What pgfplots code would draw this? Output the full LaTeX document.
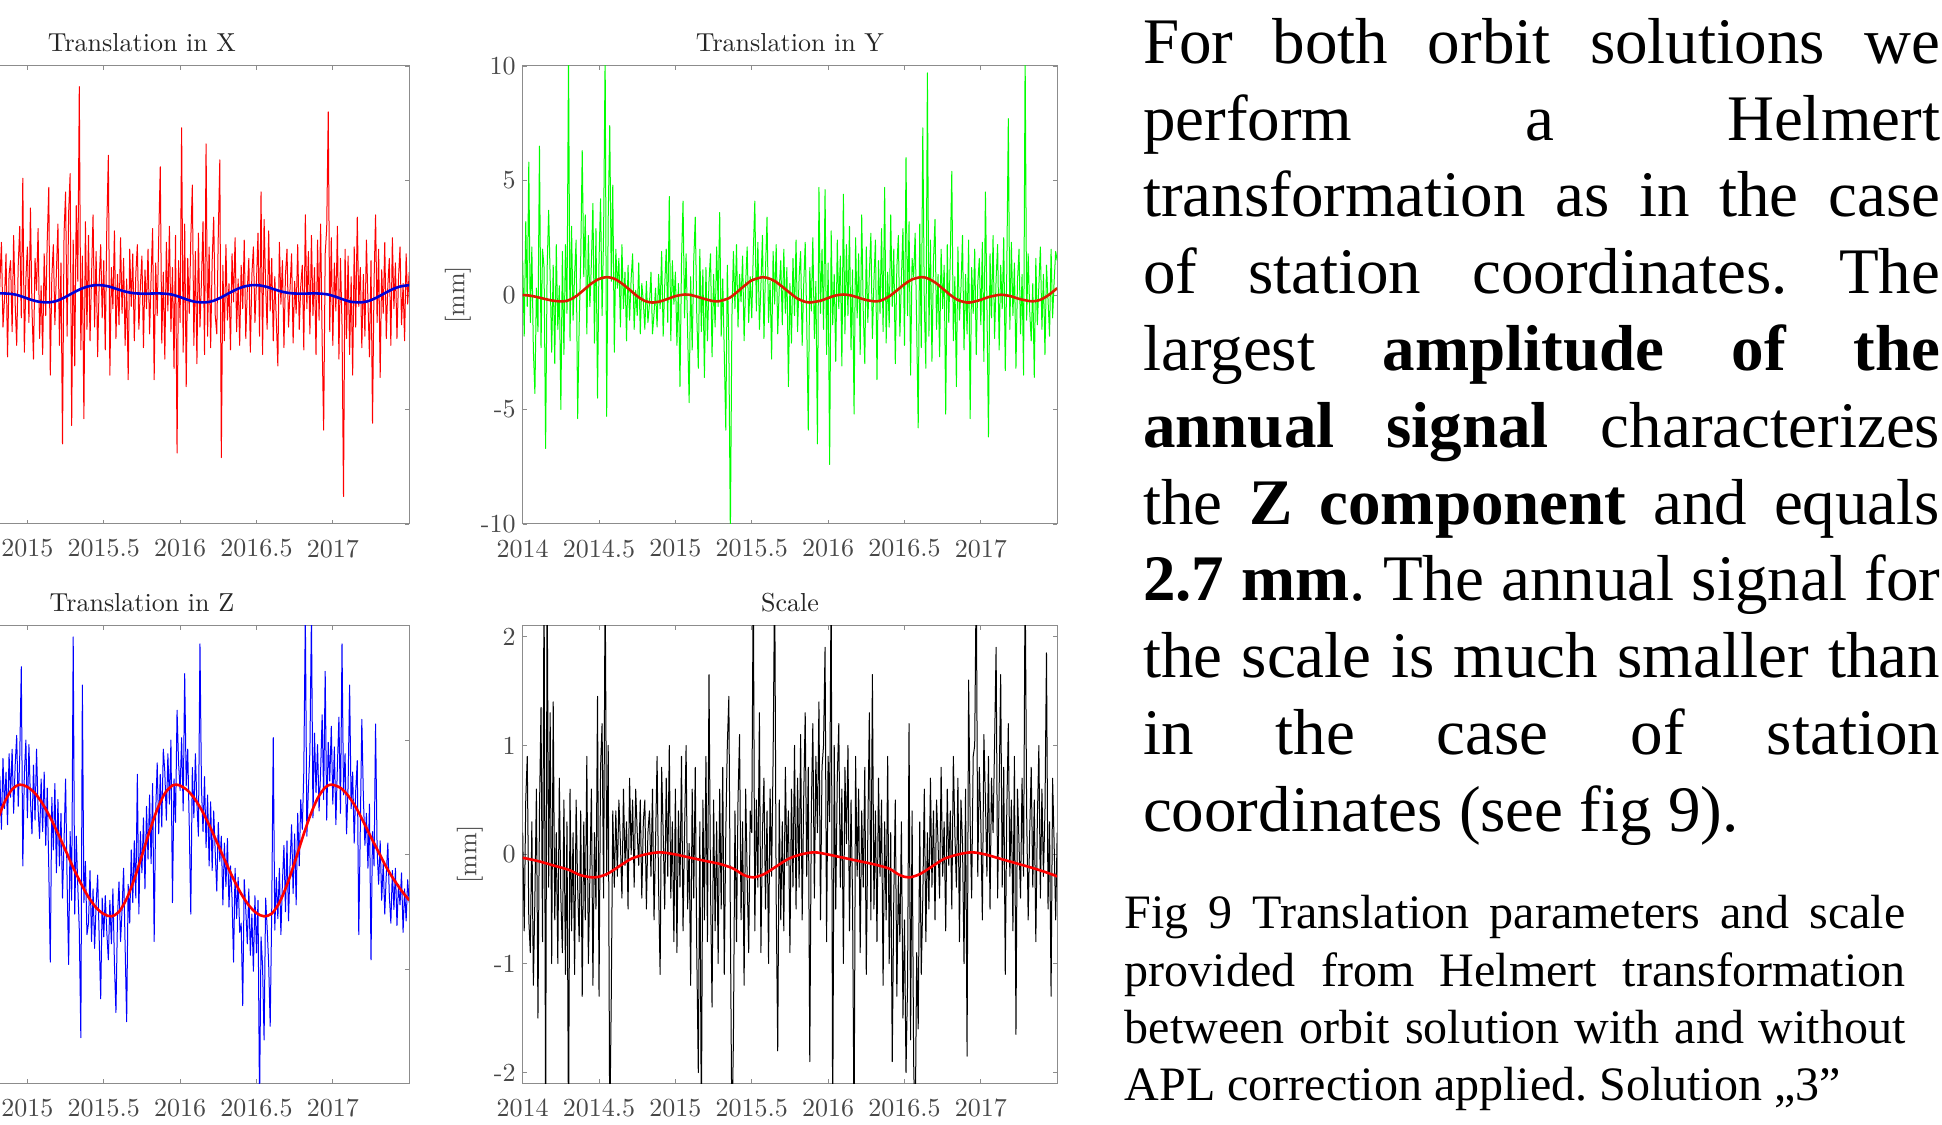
\documentclass[border=0pt]{standalone}
\usepackage{pgfplots}
\pgfplotsset{compat=1.18}
\usepackage{pgfplotstable}
\usepackage{fontspec}
\newfontfamily\tnr{Liberation Serif}
\newfontfamily\lmten{lmroman10-regular}[Extension=.otf]
\definecolor{axgray}{gray}{0.55}
\definecolor{labgray}{gray}{0.28}
\definecolor{ycurve}{rgb}{0.85,0.12,0.0}

\pgfplotstableread[row sep=\\]{
v\\
1.2\\ -0.8\\ 2.1\\ -1.5\\ 0.4\\ -2.2\\ 1.7\\ 0.3\\ -1.1\\ 2.5\\
-0.6\\ 1.4\\ -2.8\\ 0.9\\ -0.3\\ 3.1\\ -1.9\\ 0.6\\ -1.2\\ 2.2\\
-2.4\\ 0.8\\ 1.9\\ -0.7\\ -3.2\\ 1.1\\ 0.2\\ 2.6\\ -1.4\\ -0.5\\
1.6\\ -2.1\\ 3.4\\ -0.9\\ 0.5\\ -1.8\\ 2.3\\ -3.5\\ 0.7\\ 1.3\\
-1.0\\ 2.8\\ -0.4\\ -2.6\\ 1.5\\ 4.1\\ -1.2\\ 0.3\\ -3.0\\ 1.8\\
0.9\\ -1.6\\ 2.4\\ -0.2\\ -2.9\\ 1.2\\ 3.3\\ -0.8\\ -1.5\\ 0.6\\
2.0\\ -2.3\\ 0.4\\ 1.7\\ -1.1\\ -3.3\\ 2.6\\ 0.1\\ -0.7\\ 1.4\\
-1.8\\ 2.9\\ -0.5\\ 0.8\\ -2.4\\ 1.9\\ -0.3\\ -1.3\\ 3.6\\ -0.9\\
1.1\\ -2.0\\ 0.6\\ 2.3\\ -1.4\\ -0.2\\ 1.8\\ -2.7\\ 0.9\\ 1.5\\
-1.6\\ 2.6\\ -0.4\\ -2.2\\ 1.3\\ 3.0\\ -1.0\\ 5.1\\ -2.5\\ 0.7\\
2.1\\ -1.2\\ 3.8\\ -0.6\\ -2.8\\ 1.6\\ 0.2\\ 2.9\\ -1.9\\ 0.4\\
-2.6\\ 1.8\\ -0.9\\ 2.4\\ 4.7\\ -3.5\\ 0.8\\ 2.2\\ -1.3\\ 1.0\\
3.1\\ -2.2\\ 1.4\\ -6.5\\ 2.7\\ 4.5\\ -1.8\\ 3.6\\ 5.3\\ -5.7\\
2.4\\ -3.1\\ 3.9\\ 0.6\\ 9.1\\ -2.4\\ 1.7\\ -5.4\\ 3.2\\ -1.5\\
2.6\\ -2.0\\ 0.8\\ 3.5\\ -1.4\\ 1.9\\ -2.7\\ 0.5\\ 2.2\\ -1.0\\
1.5\\ -2.4\\ 3.0\\ 6.1\\ -3.5\\ 1.2\\ -0.6\\ 2.8\\ -1.9\\ 0.9\\
-1.3\\ 2.5\\ -0.8\\ 1.6\\ -2.2\\ 0.7\\ -3.7\\ 2.0\\ -0.5\\ 1.8\\
-2.0\\ 0.9\\ 2.2\\ -1.5\\ 0.4\\ 1.7\\ -2.3\\ 1.1\\ -0.6\\ 2.0\\
-1.7\\ 0.8\\ 2.9\\ -3.7\\ 1.4\\ -0.9\\ 2.5\\ 5.6\\ -2.1\\ 1.0\\
-2.8\\ 2.3\\ -0.7\\ 3.0\\ -1.6\\ 1.2\\ -3.2\\ 2.6\\ -6.9\\ 1.5\\
-1.2\\ 7.3\\ -2.5\\ 3.1\\ -4.0\\ 1.6\\ -0.8\\ 2.4\\ 4.8\\ -2.2\\
1.9\\ -3.0\\ 2.7\\ -1.4\\ 0.6\\ 3.2\\ -2.6\\ 6.6\\ -1.8\\ 2.1\\
-2.3\\ 1.5\\ 3.4\\ -0.9\\ -1.7\\ 2.6\\ 5.9\\ -7.1\\ 1.3\\ -2.0\\
2.2\\ -1.1\\ 0.5\\ -2.4\\ 1.8\\ -0.3\\ 2.5\\ -1.6\\ 0.7\\ -2.2\\
1.3\\ -0.6\\ 2.4\\ -1.9\\ 0.2\\ 1.6\\ -2.5\\ 0.9\\ 2.1\\ -1.2\\
0.6\\ 2.7\\ -1.8\\ 4.5\\ -2.6\\ 3.3\\ 0.4\\ -1.5\\ 2.8\\ -0.7\\
1.6\\ -2.0\\ 0.8\\ -1.1\\ -3.1\\ 2.3\\ -0.4\\ 1.5\\ -2.3\\ 0.9\\
2.0\\ -1.4\\ 0.3\\ 1.8\\ -2.1\\ 0.6\\ -0.8\\ 2.2\\ -1.5\\ 0.4\\
1.3\\ -2.4\\ 3.5\\ -0.6\\ 1.9\\ -1.7\\ 2.6\\ -0.9\\ 1.2\\ -2.6\\
2.4\\ -1.1\\ 3.1\\ -2.0\\ -5.9\\ 1.8\\ 2.9\\ 8.0\\ -1.6\\ 2.5\\
-2.2\\ 1.4\\ -0.7\\ 3.0\\ -2.8\\ 1.6\\ -1.3\\ -8.8\\ 2.0\\ -1.9\\
1.7\\ -2.6\\ 0.8\\ -3.5\\ 2.1\\ -1.4\\ 3.4\\ -0.5\\ 1.2\\ -2.3\\
0.9\\ -1.8\\ 2.4\\ -0.3\\ -2.7\\ 1.5\\ -5.6\\ 0.6\\ 3.5\\ -1.2\\
2.0\\ -3.6\\ 1.1\\ -0.8\\ 2.3\\ -1.9\\ 0.4\\ 1.6\\ -2.2\\ 2.5\\
-0.6\\ 1.4\\ -1.9\\ 0.7\\ 2.1\\ -1.3\\ 0.5\\ -2.0\\ 1.8\\ -0.4\\
1.0\\
}\dataX

\pgfplotstableread[row sep=\\]{
v\\
1.5\\ -1.8\\ 3.2\\ -0.5\\ 5.8\\ -1.2\\ 2.1\\ -2.4\\ -4.3\\ 0.3\\
-1.6\\ 6.5\\ -2.3\\ 2.0\\ 1.2\\ -6.7\\ 1.1\\ 3.7\\ 0.8\\ -2.5\\
1.3\\ -3.0\\ 2.2\\ -1.5\\ 0.4\\ -5.0\\ 1.9\\ -2.6\\ 2.2\\ -0.8\\
10.5\\ -2.0\\ 3.0\\ -1.1\\ 0.9\\ 2.4\\ -5.4\\ -1.3\\ 1.6\\ 6.3\\
0.8\\ 3.5\\ -1.7\\ 2.6\\ -0.5\\ 1.4\\ 4.0\\ -2.1\\ 2.9\\ -4.5\\
1.5\\ 4.2\\ -0.9\\ 2.8\\ 10.5\\ -5.3\\ 3.4\\ 7.4\\ 0.6\\ 4.8\\
-2.5\\ 2.0\\ 0.3\\ 1.6\\ -1.4\\ 2.2\\ -0.6\\ 1.0\\ -2.0\\ 1.3\\
-1.1\\ 0.7\\ 1.8\\ -1.5\\ 0.2\\ -0.9\\ 1.4\\ -1.7\\ 0.5\\ -0.3\\
-1.5\\ 0.6\\ -1.2\\ -0.4\\ 1.0\\ -1.7\\ -0.8\\ 0.3\\ -1.4\\ 0.9\\
-0.6\\ 1.9\\ -1.8\\ 0.4\\ 2.0\\ -1.2\\ 4.3\\ -2.0\\ 1.5\\ -0.4\\
1.0\\ -2.2\\ 0.5\\ -4.0\\ 1.4\\ 4.1\\ -1.0\\ 1.8\\ -1.6\\ -4.7\\
0.8\\ -2.4\\ 1.5\\ 3.4\\ -0.9\\ -3.2\\ 2.0\\ -1.6\\ 1.1\\ -3.6\\
1.2\\ -2.0\\ 0.6\\ 1.8\\ -2.7\\ 0.9\\ -1.4\\ 2.1\\ -0.5\\ 3.6\\
-1.8\\ 0.7\\ -2.5\\ -5.9\\ 1.3\\ -2.2\\ -10.5\\ -1.0\\ 1.9\\ -0.6\\
2.2\\ -1.4\\ 0.9\\ -0.3\\ 1.7\\ -2.0\\ 0.5\\ 2.1\\ -1.2\\ 0.8\\
-1.0\\ 1.8\\ 4.1\\ -0.7\\ 2.3\\ -1.5\\ 0.4\\ 2.6\\ -1.9\\ 1.1\\
3.4\\ -1.2\\ 0.6\\ -2.8\\ 1.9\\ -0.4\\ 2.2\\ -1.7\\ 0.3\\ 1.5\\
-1.3\\ 2.0\\ -0.8\\ 1.2\\ -4.0\\ 0.5\\ -2.1\\ 1.6\\ -0.9\\ 2.4\\
-1.6\\ 0.8\\ 1.9\\ -2.2\\ 0.4\\ 2.3\\ -1.1\\ -5.9\\ 1.2\\ -0.7\\
2.5\\ -1.9\\ 0.6\\ -6.5\\ 4.7\\ -0.8\\ 2.0\\ -1.5\\ 4.6\\ -2.6\\
1.4\\ -7.4\\ 2.8\\ -1.3\\ 0.9\\ -2.9\\ 2.4\\ -0.6\\ 1.7\\ -3.1\\
4.4\\ -1.7\\ 2.2\\ -0.9\\ 3.0\\ -2.4\\ 1.1\\ -5.2\\ 2.5\\ -1.0\\
1.8\\ -2.6\\ 3.5\\ -0.7\\ -3.0\\ 2.1\\ -1.2\\ 0.9\\ 2.7\\ -1.9\\
0.6\\ 2.4\\ -3.7\\ 1.5\\ -0.8\\ 2.9\\ -1.6\\ 4.7\\ -2.1\\ 1.0\\
-1.4\\ 3.5\\ -0.5\\ 2.0\\ -3.0\\ 1.2\\ 2.6\\ -1.8\\ 0.7\\ 2.9\\
-2.2\\ 6.0\\ -0.9\\ 3.2\\ -3.5\\ 1.6\\ 0.8\\ 2.7\\ -1.4\\ -5.8\\
3.1\\ -2.3\\ 7.3\\ -0.4\\ -3.2\\ 9.7\\ -1.8\\ 2.4\\ -2.9\\ 1.5\\
3.3\\ -1.5\\ 0.9\\ -2.7\\ 2.0\\ -0.6\\ 1.3\\ -5.2\\ 2.2\\ -1.2\\
1.7\\ 5.4\\ -2.0\\ 0.8\\ -4.0\\ 2.1\\ -1.1\\ 0.3\\ 2.6\\ -2.4\\
0.9\\ -1.7\\ 2.4\\ -5.4\\ 1.2\\ -0.8\\ 2.0\\ -2.6\\ 0.5\\ 1.6\\
-1.3\\ 2.3\\ -2.9\\ 4.5\\ -0.4\\ -6.2\\ 1.8\\ -1.0\\ 2.6\\ -1.9\\
0.7\\ 2.2\\ -2.4\\ 1.3\\ -0.6\\ 2.5\\ -3.3\\ 1.0\\ 7.7\\ -1.5\\
2.3\\ -0.9\\ 1.4\\ -3.2\\ 0.6\\ 2.0\\ -1.7\\ 0.9\\ -3.5\\ 10.5\\
-1.1\\ 1.8\\ -0.7\\ -2.0\\ 0.5\\ -3.6\\ 1.6\\ -1.3\\ 0.4\\ 2.1\\
-1.5\\ 0.9\\ -2.6\\ 1.3\\ -0.2\\ -1.8\\ 2.0\\ -1.0\\ 0.6\\ 1.9\\
1.5\\
}\dataY

\pgfplotstableread[row sep=\\]{
v\\
4.5\\ 1.2\\ 3.8\\ 0.9\\ 2.6\\ 4.1\\ 1.0\\ 3.3\\ 0.5\\ 2.9\\
3.6\\ 0.4\\ 2.7\\ -0.3\\ 1.9\\ 3.2\\ 0.1\\ 2.4\\ -0.6\\ 1.5\\
2.2\\ -1.0\\ 1.4\\ -0.8\\ 0.9\\ -1.9\\ 0.5\\ -0.2\\ -2.1\\ 0.3\\
-2.4\\ 0.5\\ -1.8\\ -3.0\\ -0.4\\ -2.6\\ -0.9\\ -3.3\\ -1.2\\ -2.5\\
-3.8\\ -1.1\\ -2.9\\ -4.2\\ -1.5\\ -3.1\\ -0.8\\ -3.9\\ -2.2\\ -4.5\\
-1.3\\ -3.7\\ -2.0\\ -4.4\\ -1.6\\ -3.2\\ -2.5\\ -0.9\\ -3.6\\ -1.8\\
-3.4\\ -1.0\\ -2.7\\ -0.6\\ -2.2\\ -0.4\\ -1.9\\ 0.3\\ -1.5\\ 0.6\\
-1.6\\ 0.8\\ -0.9\\ 1.5\\ -0.2\\ 1.9\\ 0.1\\ 2.3\\ 0.6\\ 1.2\\
2.9\\ 0.5\\ 3.4\\ 1.1\\ 4.2\\ 2.0\\ 3.6\\ 1.3\\ 4.4\\ 2.5\\
4.6\\ 1.8\\ 3.9\\ 5.2\\ 2.1\\ 4.3\\ 8.2\\ -0.5\\ 3.5\\ 5.0\\
1.6\\ 4.8\\ 2.4\\ 0.9\\ 3.9\\ 1.5\\ 4.6\\ 2.0\\ 0.7\\ 3.3\\
1.0\\ 3.6\\ 0.4\\ 2.9\\ -0.6\\ -4.7\\ 2.5\\ 0.2\\ 3.1\\ -0.8\\
2.4\\ -0.5\\ 1.8\\ -1.9\\ 0.6\\ 3.3\\ -1.2\\ -4.8\\ 1.0\\ -2.0\\
9.5\\ -2.6\\ 0.8\\ -1.4\\ -3.3\\ -8.0\\ 7.4\\ -2.1\\ -0.3\\ -3.5\\
-3.0\\ -0.7\\ -3.8\\ -1.5\\ -4.1\\ -2.2\\ -0.9\\ -3.6\\ -6.3\\ -1.9\\
-3.6\\ -1.8\\ -3.4\\ -4.6\\ -2.0\\ -3.9\\ -1.5\\ -4.8\\ -6.9\\ -2.7\\
-1.2\\ -3.8\\ -2.4\\ -0.6\\ -4.0\\ -7.3\\ -1.3\\ -3.0\\ 0.2\\ -2.1\\
0.6\\ -1.9\\ 3.5\\ -2.6\\ 1.0\\ -0.8\\ 1.6\\ -1.5\\ 2.1\\ -0.2\\
2.6\\ -0.4\\ 3.1\\ -3.8\\ 1.8\\ 4.0\\ 0.9\\ 3.5\\ 1.2\\ 4.6\\
3.6\\ 1.5\\ 4.4\\ 2.2\\ 5.0\\ -2.1\\ 3.3\\ 1.4\\ 6.3\\ 4.0\\
2.8\\ 5.1\\ 1.9\\ 7.9\\ 3.0\\ 4.6\\ 1.2\\ -2.6\\ 3.8\\ 1.6\\
4.4\\ 2.2\\ 0.8\\ 9.2\\ 2.9\\ 1.0\\ 3.4\\ 0.3\\ 2.6\\ -0.5\\
2.3\\ -0.7\\ 1.9\\ 0.1\\ -1.6\\ 1.4\\ -0.3\\ 0.8\\ -2.2\\ 0.5\\
-1.4\\ 0.7\\ -2.3\\ -0.5\\ -1.9\\ -4.7\\ -0.6\\ -2.8\\ -1.0\\ -3.4\\
-3.0\\ -6.6\\ -1.1\\ -2.4\\ -3.9\\ -1.5\\ -4.4\\ -2.6\\ -5.1\\ -1.8\\
-4.3\\ -2.0\\ -11.0\\ -3.6\\ -4.9\\ -8.1\\ -1.9\\ -3.2\\ -4.8\\ -7.5\\
-2.4\\ 5.1\\ -3.3\\ -1.0\\ -2.8\\ -0.6\\ -3.5\\ -1.2\\ 0.4\\ -2.5\\
0.6\\ -2.9\\ -0.4\\ 1.3\\ -1.7\\ 0.9\\ -2.2\\ 1.8\\ -0.5\\ 2.4\\
1.1\\ 3.6\\ 10.5\\ 0.8\\ 2.9\\ 4.5\\ 10.5\\ 1.6\\ 5.3\\ 2.7\\
4.8\\ 1.9\\ 3.6\\ 6.1\\ 2.4\\ 8.0\\ 1.5\\ 4.9\\ 3.2\\ 5.6\\
2.2\\ 4.7\\ 1.3\\ 3.9\\ 6.0\\ 1.8\\ 9.2\\ 2.6\\ 4.4\\ 0.9\\
3.0\\ 7.4\\ 2.0\\ 3.6\\ 0.5\\ 2.8\\ 4.1\\ -3.5\\ 1.2\\ 5.9\\
2.5\\ 0.4\\ 1.8\\ -0.6\\ 2.2\\ -4.6\\ 1.0\\ -0.5\\ 5.7\\ 0.2\\
-1.3\\ 0.6\\ -2.0\\ -0.4\\ -2.6\\ -0.9\\ 0.5\\ -1.8\\ -3.0\\ -0.7\\
-2.4\\ -0.6\\ -3.1\\ -1.3\\ -2.2\\ -0.8\\ -3.4\\ -1.5\\ -2.9\\ -1.1\\
-2.1\\
}\dataZ

\pgfplotstableread[row sep=\\]{
v\\
0.2\\ -0.7\\ 0.5\\ 0.9\\ -0.6\\ -0.9\\ 0.3\\ -1.2\\ -0.4\\ 0.6\\
-1.5\\ 0.4\\ 1.35\\ -0.8\\ 2.6\\ -2.6\\ 2.6\\ -0.3\\ 1.3\\ -1.0\\
1.4\\ -0.6\\ 0.2\\ -1.0\\ 0.7\\ -0.4\\ -0.9\\ 0.5\\ -1.1\\ 0.3\\
-2.6\\ 0.6\\ -0.7\\ 0.2\\ -1.1\\ 0.5\\ -0.3\\ -0.8\\ 0.4\\ -1.3\\
0.3\\ -0.6\\ 0.9\\ -1.0\\ -0.2\\ 0.6\\ -1.2\\ 0.2\\ -0.5\\ 1.45\\
-1.3\\ 0.8\\ 1.2\\ -0.4\\ 2.6\\ -0.2\\ 1.0\\ -2.6\\ -1.3\\ 0.4\\
-0.3\\ 0.4\\ -0.2\\ 0.5\\ 0.1\\ -0.4\\ 0.6\\ -0.1\\ 0.3\\ -0.5\\
0.7\\ 0.0\\ 0.5\\ -0.3\\ 0.6\\ 0.2\\ -0.1\\ 0.5\\ -0.4\\ 0.3\\
0.5\\ -0.5\\ 0.2\\ 0.4\\ -0.2\\ 0.6\\ -0.6\\ 0.1\\ 0.9\\ -0.3\\
-1.1\\ 0.8\\ 0.2\\ -0.5\\ 0.7\\ -0.2\\ 1.0\\ -0.4\\ 0.3\\ -0.8\\
0.6\\ -0.9\\ 0.4\\ -0.3\\ 0.9\\ -0.7\\ 0.2\\ 1.0\\ -0.5\\ 0.1\\
-1.2\\ 0.6\\ -0.4\\ 0.8\\ -0.9\\ -2.0\\ 0.3\\ -2.6\\ 0.5\\ -0.6\\
0.9\\ -0.8\\ 1.65\\ -0.3\\ -1.4\\ 0.5\\ -0.7\\ 0.3\\ -1.0\\ 0.6\\
-0.5\\ 0.8\\ -1.1\\ 0.2\\ 1.0\\ 1.45\\ -0.6\\ -2.6\\ -1.7\\ 0.4\\
-0.8\\ 0.5\\ 1.1\\ -0.6\\ 0.3\\ -1.2\\ 0.6\\ -0.2\\ -0.9\\ 0.4\\
0.2\\ 2.6\\ -0.7\\ 0.5\\ -0.3\\ 1.3\\ -0.9\\ 0.2\\ 0.7\\ -0.5\\
0.4\\ -1.0\\ 0.6\\ -0.2\\ 0.9\\ 2.6\\ -0.4\\ -1.8\\ 0.5\\ -0.6\\
0.3\\ -0.7\\ 0.8\\ -0.1\\ 0.4\\ -0.9\\ 0.6\\ -0.3\\ 1.0\\ -0.5\\
0.7\\ -0.3\\ 1.1\\ -0.6\\ 0.5\\ 1.3\\ -0.2\\ 0.8\\ -1.9\\ 0.4\\
1.2\\ -0.4\\ 0.9\\ 0.2\\ 1.4\\ -0.6\\ 0.8\\ 1.0\\ 1.9\\ -0.8\\
0.9\\ 0.3\\ 2.6\\ -2.6\\ 1.0\\ -0.5\\ 0.7\\ 1.2\\ -0.3\\ 0.6\\
-1.0\\ 0.8\\ 0.1\\ 1.0\\ -0.7\\ 0.5\\ -0.4\\ -2.6\\ 0.9\\ -0.2\\
0.6\\ -0.9\\ 0.4\\ -0.3\\ 0.8\\ -1.1\\ 0.2\\ 1.3\\ -0.6\\ 1.65\\
-0.5\\ 0.4\\ -0.8\\ 0.7\\ -0.2\\ 0.5\\ -1.2\\ 0.3\\ -0.6\\ 0.9\\
-1.0\\ 0.2\\ -1.9\\ -0.4\\ 0.5\\ -1.3\\ -0.2\\ -0.8\\ 0.3\\ -1.5\\
-0.6\\ -2.0\\ -1.2\\ 1.2\\ -1.7\\ 0.4\\ -1.9\\ -2.6\\ -0.9\\ -1.6\\
0.3\\ -1.1\\ -0.4\\ 0.6\\ -0.8\\ 0.2\\ -0.5\\ 0.7\\ -0.3\\ 0.4\\
-0.6\\ 0.5\\ 0.1\\ -0.4\\ 0.8\\ -0.2\\ 0.3\\ -0.7\\ 0.6\\ -0.1\\
0.4\\ -0.5\\ 0.9\\ 0.2\\ -0.3\\ 0.7\\ -0.8\\ 0.5\\ 0.1\\ -1.0\\
0.6\\ -1.85\\ 1.6\\ 0.3\\ -0.4\\ 0.9\\ 1.0\\ 2.6\\ -0.2\\ 0.8\\
0.3\\ -0.6\\ 1.1\\ 0.5\\ -0.2\\ 0.9\\ -0.5\\ 0.7\\ 0.2\\ 1.0\\
1.9\\ -0.4\\ 0.6\\ 1.65\\ -0.3\\ 0.8\\ -1.1\\ 0.4\\ 1.2\\ -0.2\\
0.5\\ -0.7\\ 0.9\\ -1.65\\ 0.6\\ 0.1\\ -0.4\\ 0.7\\ -0.2\\ 2.6\\
0.4\\ -0.6\\ 0.2\\ 0.8\\ -0.3\\ 0.5\\ -0.8\\ 0.3\\ 1.0\\ -0.4\\
0.6\\ -0.2\\ 0.4\\ 1.85\\ -0.5\\ 0.3\\ -1.3\\ 0.7\\ 0.1\\ -0.6\\
0.2\\
}\dataS

\pgfplotsset{
  every axis title shift=0pt,
  mat/.style={
    scale only axis, width=267.25pt, height=229pt,
    xmin=2014, xmax=2017.5,
    xtick={2014,2014.5,2015,2015.5,2016,2016.5,2017},
    xticklabels={2014,2014.5,2015,2015.5,2016,2016.5,2017},
    tick align=inside, major tick length=2.2pt,
    axis line style={axgray, line width=0.5pt},
    tick style={axgray, line width=0.4pt},
    tick label style={font=\lmten\fontsize{13}{15}\selectfont, text=labgray},
    xticklabel style={yshift=-4.2pt},
    title style={font=\lmten\fontsize{13}{15}\selectfont, text=black!85, at={(0.5,1)}, anchor=base, yshift=7.2pt, inner sep=0pt},
    label style={font=\lmten\fontsize{13}{15}\selectfont, text=labgray},
    ylabel={[mm]},
  },
  noise/.style={line width=0.5pt, line join=round},
  fit/.style={line width=1.3pt, smooth},
}

\begin{document}
\begin{tikzpicture}
\useasboundingbox (0pt,0pt) rectangle (971pt,562pt);
\clip (0pt,0pt) rectangle (971pt,562pt);

% Translation in X
\begin{axis}[mat, at={(-62.65pt,300pt)}, anchor=south west,
  ymin=-10, ymax=10, ytick={-10,-5,0,5,10}, yticklabels={-10,-5,0,5,10},
  title={Translation in X}, ylabel style={at={(axis description cs:-0.1212,0.5)}, anchor=center}]
\addplot[noise, color=red] table[x expr=2014+\coordindex*0.01, y=v] {\dataX};
\addplot[fit, color=blue!85!black] coordinates {
(2014.00,-0.20) (2014.05,-0.29) (2014.12,-0.32) (2014.17,-0.25) (2014.22,-0.10) (2014.27,0.08) (2014.32,0.25) (2014.37,0.37) (2014.42,0.43) (2014.47,0.42) (2014.52,0.35) (2014.57,0.24) (2014.62,0.14) (2014.67,0.08) (2014.72,0.06) (2014.77,0.06) (2014.82,0.07) (2014.87,0.06) (2014.92,0.02) (2014.97,-0.08) (2015.02,-0.20) (2015.08,-0.30) (2015.145,-0.32)
(2015.195,-0.25) (2015.245,-0.10) (2015.295,0.08) (2015.345,0.25) (2015.395,0.37) (2015.445,0.43) (2015.495,0.42) (2015.545,0.35) (2015.595,0.24) (2015.645,0.14) (2015.695,0.08) (2015.745,0.06) (2015.795,0.06) (2015.845,0.07) (2015.895,0.06) (2015.945,0.02) (2015.995,-0.08) (2016.045,-0.20) (2016.10,-0.30) (2016.17,-0.32)
(2016.22,-0.25) (2016.27,-0.10) (2016.32,0.08) (2016.37,0.25) (2016.42,0.37) (2016.47,0.43) (2016.52,0.42) (2016.57,0.35) (2016.62,0.24) (2016.67,0.14) (2016.72,0.08) (2016.77,0.06) (2016.82,0.06) (2016.87,0.07) (2016.92,0.06) (2016.97,0.02) (2017.02,-0.08) (2017.07,-0.20) (2017.12,-0.30) (2017.19,-0.32)
(2017.24,-0.25) (2017.29,-0.10) (2017.34,0.08) (2017.39,0.25) (2017.44,0.37) (2017.50,0.43)};
\end{axis}

% Translation in Y
\begin{axis}[mat, at={(261.35pt,300pt)}, anchor=south west,
  ymin=-10, ymax=10, ytick={-10,-5,0,5,10}, yticklabels={-10,-5,0,5,10},
  title={Translation in Y}, ylabel style={at={(axis description cs:-0.1212,0.5)}, anchor=center}]
\addplot[noise, color=green] table[x expr=2014+\coordindex*0.01, y=v] {\dataY};
\addplot[fit, color=ycurve] coordinates {
(2014.00,0.00) (2014.05,-0.03) (2014.10,-0.10) (2014.15,-0.18) (2014.20,-0.25) (2014.26,-0.28) (2014.30,-0.23) (2014.35,-0.05) (2014.40,0.22) (2014.45,0.50) (2014.50,0.70) (2014.55,0.78) (2014.60,0.71) (2014.65,0.50) (2014.70,0.23) (2014.75,-0.05) (2014.80,-0.26) (2014.85,-0.33) (2014.90,-0.28) (2014.95,-0.17) (2015.00,-0.05) (2015.06,0.02) (2015.10,0.00) (2015.15,-0.09) (2015.20,-0.19) (2015.25,-0.27) (2015.28,-0.28) (2015.35,-0.14) (2015.40,0.11) (2015.45,0.39) (2015.50,0.64) (2015.57,0.78) (2015.60,0.75) (2015.65,0.61) (2015.70,0.36) (2015.75,0.09) (2015.80,-0.16) (2015.85,-0.30) (2015.88,-0.33) (2015.95,-0.25) (2016.00,-0.13) (2016.05,-0.02) (2016.10,0.02) (2016.15,-0.02) (2016.20,-0.12) (2016.25,-0.22) (2016.31,-0.28) (2016.35,-0.23) (2016.40,-0.06) (2016.45,0.20) (2016.50,0.47) (2016.55,0.68) (2016.61,0.78) (2016.65,0.73) (2016.70,0.55) (2016.75,0.28) (2016.80,0.00) (2016.85,-0.22) (2016.91,-0.33) (2016.95,-0.30) (2017.00,-0.21) (2017.05,-0.09) (2017.13,0.01) (2017.20,-0.06) (2017.25,-0.17) (2017.34,-0.28) (2017.40,-0.18) (2017.45,0.03) (2017.50,0.30)};
\end{axis}

% Translation in Z
\begin{axis}[mat, at={(-62.65pt,20.25pt)}, anchor=south west,
  ymin=-10, ymax=10, ytick={-10,-5,0,5,10}, yticklabels={-10,-5,0,5,10},
  title={Translation in Z}, ylabel style={at={(axis description cs:-0.1212,0.5)}, anchor=center}]
\addplot[noise, color=blue] table[x expr=2014+\coordindex*0.01, y=v] {\dataZ};
\addplot[fit, color=red] coordinates {
(2014.00,2.86) (2014.05,2.50) (2014.10,1.98) (2014.15,1.34) (2014.20,0.63) (2014.25,-0.13) (2014.30,-0.86) (2014.35,-1.52) (2014.40,-2.06) (2014.45,-2.45) (2014.50,-2.67) (2014.53,-2.70) (2014.55,-2.67) (2014.60,-2.32) (2014.65,-1.62) (2014.70,-0.67) (2014.75,0.39) (2014.80,1.42) (2014.85,2.28) (2014.90,2.85) (2014.95,3.05) (2015.00,2.95) (2015.05,2.67) (2015.10,2.21) (2015.15,1.61) (2015.20,0.92) (2015.25,0.18) (2015.30,-0.57) (2015.35,-1.26) (2015.40,-1.86) (2015.45,-2.32) (2015.50,-2.60) (2015.55,-2.70) (2015.60,-2.50) (2015.65,-1.93) (2015.70,-1.07) (2015.75,-0.04) (2015.80,1.02) (2015.85,1.97) (2015.90,2.67) (2015.95,3.02) (2015.97,3.05) (2016.00,3.01) (2016.05,2.79) (2016.10,2.39) (2016.15,1.83) (2016.20,1.15) (2016.25,0.40) (2016.30,-0.36) (2016.35,-1.08) (2016.40,-1.72) (2016.45,-2.22) (2016.50,-2.56) (2016.55,-2.70) (2016.60,-2.58) (2016.65,-2.10) (2016.70,-1.32) (2016.75,-0.35) (2016.80,0.70) (2016.85,1.67) (2016.90,2.45) (2016.95,2.93) (2016.99,3.05) (2017.05,2.91) (2017.10,2.57) (2017.15,2.07) (2017.20,1.43) (2017.25,0.75) (2017.30,0.10) (2017.35,-0.55) (2017.40,-1.10) (2017.45,-1.58) (2017.50,-2.00)};
\end{axis}

% Scale
\begin{axis}[mat, at={(261.35pt,20.25pt)}, anchor=south west,
  ymin=-2.1, ymax=2.1, ytick={-2,-1,0,1,2}, yticklabels={-2,-1,0,1,2},
  title={Scale}, ylabel style={at={(axis description cs:-0.0988,0.5)}, anchor=center}]
\addplot[noise, color=black] table[x expr=2014+\coordindex*0.01, y=v] {\dataS};
\addplot[fit, color=red] coordinates {
(2014.00,-0.03) (2014.10,-0.06) (2014.20,-0.10) (2014.30,-0.14) (2014.38,-0.19) (2014.47,-0.21) (2014.55,-0.18) (2014.63,-0.11) (2014.71,-0.04) (2014.80,0.00) (2014.90,0.02) (2015.00,0.00) (2015.10,-0.03) (2015.20,-0.06) (2015.30,-0.09) (2015.38,-0.13) (2015.45,-0.19) (2015.51,-0.21) (2015.58,-0.18) (2015.66,-0.11) (2015.74,-0.04) (2015.82,0.00) (2015.91,0.02) (2016.00,0.00) (2016.10,-0.03) (2016.20,-0.06) (2016.30,-0.09) (2016.40,-0.13) (2016.47,-0.19) (2016.53,-0.21) (2016.60,-0.18) (2016.68,-0.11) (2016.76,-0.04) (2016.85,0.00) (2016.94,0.02) (2017.03,0.00) (2017.13,-0.04) (2017.23,-0.08) (2017.33,-0.12) (2017.42,-0.16) (2017.50,-0.20)};
\end{axis}

% Text
\node[anchor=base west, inner sep=0pt] at (571.35pt,530.35pt) {\parbox[t]{398.5pt}{\tnr\fontsize{32.5}{38.4}\selectfont\frenchspacing
\parindent=0pt\tolerance=10000\hbadness=10000\hyphenpenalty=10000\rightskip=0pt
For both orbit solutions we\linebreak
perform a Helmert\linebreak
transformation as in the case\linebreak
of station coordinates. The\linebreak
largest \textbf{amplitude of the}\linebreak
\textbf{annual signal} characterizes\linebreak
the \textbf{Z component} and equals\linebreak
\textbf{2.7 mm}. The annual signal for\linebreak
the scale is much smaller than\linebreak
in the case of station\linebreak
coordinates (see fig 9).}};

\node[anchor=base west, inner sep=0pt] at (562.25pt,97.5pt) {\parbox[t]{390.25pt}{\tnr\fontsize{24}{28.6}\selectfont\frenchspacing
\parindent=0pt\tolerance=10000\hbadness=10000\hyphenpenalty=10000\rightskip=0pt
Fig 9 Translation parameters and scale\linebreak
provided from Helmert transformation\linebreak
between orbit solution with and without\linebreak
APL correction applied. Solution „3”}};
\end{tikzpicture}
\end{document}
